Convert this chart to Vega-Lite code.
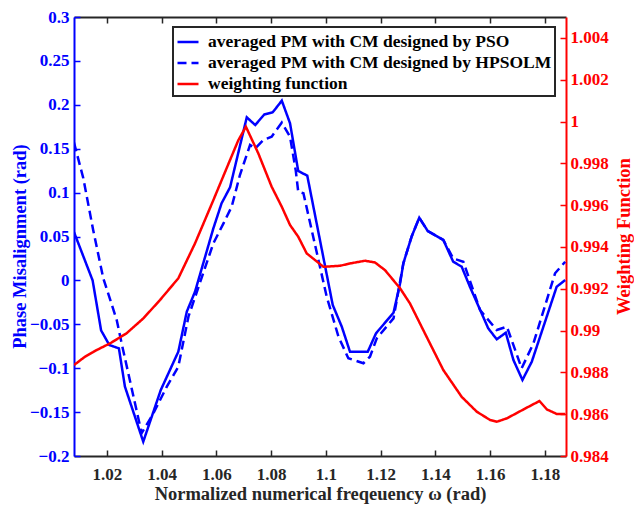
{
  "$schema": "https://vega.github.io/schema/vega-lite/v6.json",
  "autosize": "none",
  "width": 492,
  "height": 439,
  "padding": {"left": 74, "top": 17, "right": 68, "bottom": 50},
  "background": "white",
  "config": {
    "view": {"stroke": null},
    "font": "Liberation Serif",
    "axis": {"labelFont": "Liberation Serif", "titleFont": "Liberation Serif", "labelFontWeight": "bold", "titleFontWeight": "bold", "labelFontSize": 17, "titleFontSize": 18.5, "grid": false, "domainWidth": 2, "tickWidth": 1.5, "tickSize": -6, "labelPadding": 11}
  },
  "datasets": {
    "pm": [
      {"x": 1.008, "y": 0.055, "s": "averaged PM with CM designed by PSO"},
      {"x": 1.0148, "y": 0.0, "s": "averaged PM with CM designed by PSO"},
      {"x": 1.0179, "y": -0.057, "s": "averaged PM with CM designed by PSO"},
      {"x": 1.0209, "y": -0.0736, "s": "averaged PM with CM designed by PSO"},
      {"x": 1.0244, "y": -0.0774, "s": "averaged PM with CM designed by PSO"},
      {"x": 1.0266, "y": -0.121, "s": "averaged PM with CM designed by PSO"},
      {"x": 1.0333, "y": -0.1837, "s": "averaged PM with CM designed by PSO"},
      {"x": 1.0397, "y": -0.1248, "s": "averaged PM with CM designed by PSO"},
      {"x": 1.0461, "y": -0.0812, "s": "averaged PM with CM designed by PSO"},
      {"x": 1.0492, "y": -0.0356, "s": "averaged PM with CM designed by PSO"},
      {"x": 1.0522, "y": -0.0129, "s": "averaged PM with CM designed by PSO"},
      {"x": 1.0589, "y": 0.0593, "s": "averaged PM with CM designed by PSO"},
      {"x": 1.0619, "y": 0.0878, "s": "averaged PM with CM designed by PSO"},
      {"x": 1.065, "y": 0.106, "s": "averaged PM with CM designed by PSO"},
      {"x": 1.0711, "y": 0.1857, "s": "averaged PM with CM designed by PSO"},
      {"x": 1.0742, "y": 0.177, "s": "averaged PM with CM designed by PSO"},
      {"x": 1.0775, "y": 0.189, "s": "averaged PM with CM designed by PSO"},
      {"x": 1.0806, "y": 0.1915, "s": "averaged PM with CM designed by PSO"},
      {"x": 1.0839, "y": 0.2047, "s": "averaged PM with CM designed by PSO"},
      {"x": 1.0869, "y": 0.179, "s": "averaged PM with CM designed by PSO"},
      {"x": 1.0899, "y": 0.1246, "s": "averaged PM with CM designed by PSO"},
      {"x": 1.0932, "y": 0.1193, "s": "averaged PM with CM designed by PSO"},
      {"x": 1.1025, "y": -0.028, "s": "averaged PM with CM designed by PSO"},
      {"x": 1.1058, "y": -0.0527, "s": "averaged PM with CM designed by PSO"},
      {"x": 1.1088, "y": -0.0812, "s": "averaged PM with CM designed by PSO"},
      {"x": 1.1153, "y": -0.0812, "s": "averaged PM with CM designed by PSO"},
      {"x": 1.1183, "y": -0.0603, "s": "averaged PM with CM designed by PSO"},
      {"x": 1.1247, "y": -0.0368, "s": "averaged PM with CM designed by PSO"},
      {"x": 1.1271, "y": -0.0033, "s": "averaged PM with CM designed by PSO"},
      {"x": 1.1283, "y": 0.0195, "s": "averaged PM with CM designed by PSO"},
      {"x": 1.1313, "y": 0.0498, "s": "averaged PM with CM designed by PSO"},
      {"x": 1.1341, "y": 0.0714, "s": "averaged PM with CM designed by PSO"},
      {"x": 1.1372, "y": 0.0563, "s": "averaged PM with CM designed by PSO"},
      {"x": 1.1429, "y": 0.046, "s": "averaged PM with CM designed by PSO"},
      {"x": 1.1465, "y": 0.0213, "s": "averaged PM with CM designed by PSO"},
      {"x": 1.1496, "y": 0.0156, "s": "averaged PM with CM designed by PSO"},
      {"x": 1.1526, "y": -0.0072, "s": "averaged PM with CM designed by PSO"},
      {"x": 1.1593, "y": -0.0546, "s": "averaged PM with CM designed by PSO"},
      {"x": 1.1624, "y": -0.0671, "s": "averaged PM with CM designed by PSO"},
      {"x": 1.1657, "y": -0.0596, "s": "averaged PM with CM designed by PSO"},
      {"x": 1.1685, "y": -0.0907, "s": "averaged PM with CM designed by PSO"},
      {"x": 1.1718, "y": -0.1134, "s": "averaged PM with CM designed by PSO"},
      {"x": 1.1752, "y": -0.0926, "s": "averaged PM with CM designed by PSO"},
      {"x": 1.1843, "y": -0.0072, "s": "averaged PM with CM designed by PSO"},
      {"x": 1.1874, "y": 0.0004, "s": "averaged PM with CM designed by PSO"},
      {"x": 1.008, "y": 0.157, "s": "averaged PM with CM designed by HPSOLM"},
      {"x": 1.0114, "y": 0.1163, "s": "averaged PM with CM designed by HPSOLM"},
      {"x": 1.015, "y": 0.0574, "s": "averaged PM with CM designed by HPSOLM"},
      {"x": 1.0187, "y": 0.0024, "s": "averaged PM with CM designed by HPSOLM"},
      {"x": 1.0236, "y": -0.0451, "s": "averaged PM with CM designed by HPSOLM"},
      {"x": 1.0254, "y": -0.0717, "s": "averaged PM with CM designed by HPSOLM"},
      {"x": 1.0327, "y": -0.174, "s": "averaged PM with CM designed by HPSOLM"},
      {"x": 1.037, "y": -0.1514, "s": "averaged PM with CM designed by HPSOLM"},
      {"x": 1.0419, "y": -0.121, "s": "averaged PM with CM designed by HPSOLM"},
      {"x": 1.0461, "y": -0.0983, "s": "averaged PM with CM designed by HPSOLM"},
      {"x": 1.0498, "y": -0.0413, "s": "averaged PM with CM designed by HPSOLM"},
      {"x": 1.0589, "y": 0.0422, "s": "averaged PM with CM designed by HPSOLM"},
      {"x": 1.0626, "y": 0.065, "s": "averaged PM with CM designed by HPSOLM"},
      {"x": 1.0656, "y": 0.084, "s": "averaged PM with CM designed by HPSOLM"},
      {"x": 1.0686, "y": 0.12, "s": "averaged PM with CM designed by HPSOLM"},
      {"x": 1.0723, "y": 0.1542, "s": "averaged PM with CM designed by HPSOLM"},
      {"x": 1.0742, "y": 0.1504, "s": "averaged PM with CM designed by HPSOLM"},
      {"x": 1.0772, "y": 0.16, "s": "averaged PM with CM designed by HPSOLM"},
      {"x": 1.0802, "y": 0.1637, "s": "averaged PM with CM designed by HPSOLM"},
      {"x": 1.0839, "y": 0.1797, "s": "averaged PM with CM designed by HPSOLM"},
      {"x": 1.0869, "y": 0.1637, "s": "averaged PM with CM designed by HPSOLM"},
      {"x": 1.089, "y": 0.125, "s": "averaged PM with CM designed by HPSOLM"},
      {"x": 1.0899, "y": 0.101, "s": "averaged PM with CM designed by HPSOLM"},
      {"x": 1.0918, "y": 0.0992, "s": "averaged PM with CM designed by HPSOLM"},
      {"x": 1.1003, "y": -0.0186, "s": "averaged PM with CM designed by HPSOLM"},
      {"x": 1.1046, "y": -0.0641, "s": "averaged PM with CM designed by HPSOLM"},
      {"x": 1.1082, "y": -0.0887, "s": "averaged PM with CM designed by HPSOLM"},
      {"x": 1.1137, "y": -0.0944, "s": "averaged PM with CM designed by HPSOLM"},
      {"x": 1.1161, "y": -0.0869, "s": "averaged PM with CM designed by HPSOLM"},
      {"x": 1.1186, "y": -0.066, "s": "averaged PM with CM designed by HPSOLM"},
      {"x": 1.1247, "y": -0.0432, "s": "averaged PM with CM designed by HPSOLM"},
      {"x": 1.1283, "y": 0.0195, "s": "averaged PM with CM designed by HPSOLM"},
      {"x": 1.1313, "y": 0.0498, "s": "averaged PM with CM designed by HPSOLM"},
      {"x": 1.1341, "y": 0.0714, "s": "averaged PM with CM designed by HPSOLM"},
      {"x": 1.1372, "y": 0.0563, "s": "averaged PM with CM designed by HPSOLM"},
      {"x": 1.1429, "y": 0.046, "s": "averaged PM with CM designed by HPSOLM"},
      {"x": 1.1465, "y": 0.025, "s": "averaged PM with CM designed by HPSOLM"},
      {"x": 1.1502, "y": 0.0213, "s": "averaged PM with CM designed by HPSOLM"},
      {"x": 1.1563, "y": -0.0337, "s": "averaged PM with CM designed by HPSOLM"},
      {"x": 1.1624, "y": -0.0565, "s": "averaged PM with CM designed by HPSOLM"},
      {"x": 1.1661, "y": -0.0527, "s": "averaged PM with CM designed by HPSOLM"},
      {"x": 1.1715, "y": -0.1001, "s": "averaged PM with CM designed by HPSOLM"},
      {"x": 1.1758, "y": -0.0717, "s": "averaged PM with CM designed by HPSOLM"},
      {"x": 1.1837, "y": 0.0081, "s": "averaged PM with CM designed by HPSOLM"},
      {"x": 1.1874, "y": 0.0213, "s": "averaged PM with CM designed by HPSOLM"}
    ],
    "wf": [
      {"x": 1.008, "w": 0.98835, "s": "weighting function"},
      {"x": 1.012, "w": 0.98875, "s": "weighting function"},
      {"x": 1.0163, "w": 0.98907, "s": "weighting function"},
      {"x": 1.0212, "w": 0.98939, "s": "weighting function"},
      {"x": 1.0272, "w": 0.98987, "s": "weighting function"},
      {"x": 1.0333, "w": 0.99058, "s": "weighting function"},
      {"x": 1.0394, "w": 0.99146, "s": "weighting function"},
      {"x": 1.0461, "w": 0.9925, "s": "weighting function"},
      {"x": 1.0522, "w": 0.99417, "s": "weighting function"},
      {"x": 1.0589, "w": 0.99624, "s": "weighting function"},
      {"x": 1.065, "w": 0.99816, "s": "weighting function"},
      {"x": 1.068, "w": 0.9991, "s": "weighting function"},
      {"x": 1.0708, "w": 0.99975, "s": "weighting function"},
      {"x": 1.0753, "w": 0.99848, "s": "weighting function"},
      {"x": 1.0802, "w": 0.99688, "s": "weighting function"},
      {"x": 1.0839, "w": 0.99592, "s": "weighting function"},
      {"x": 1.0869, "w": 0.99505, "s": "weighting function"},
      {"x": 1.0899, "w": 0.99449, "s": "weighting function"},
      {"x": 1.093, "w": 0.99369, "s": "weighting function"},
      {"x": 1.0991, "w": 0.99305, "s": "weighting function"},
      {"x": 1.1052, "w": 0.9931, "s": "weighting function"},
      {"x": 1.1088, "w": 0.99321, "s": "weighting function"},
      {"x": 1.1143, "w": 0.99334, "s": "weighting function"},
      {"x": 1.1179, "w": 0.99326, "s": "weighting function"},
      {"x": 1.1216, "w": 0.99289, "s": "weighting function"},
      {"x": 1.1271, "w": 0.99202, "s": "weighting function"},
      {"x": 1.1307, "w": 0.9913, "s": "weighting function"},
      {"x": 1.1368, "w": 0.9897, "s": "weighting function"},
      {"x": 1.1429, "w": 0.98811, "s": "weighting function"},
      {"x": 1.1496, "w": 0.98683, "s": "weighting function"},
      {"x": 1.1551, "w": 0.98612, "s": "weighting function"},
      {"x": 1.16, "w": 0.98572, "s": "weighting function"},
      {"x": 1.1624, "w": 0.98564, "s": "weighting function"},
      {"x": 1.1661, "w": 0.9858, "s": "weighting function"},
      {"x": 1.1722, "w": 0.98623, "s": "weighting function"},
      {"x": 1.178, "w": 0.98663, "s": "weighting function"},
      {"x": 1.1807, "w": 0.98623, "s": "weighting function"},
      {"x": 1.1843, "w": 0.98601, "s": "weighting function"},
      {"x": 1.1874, "w": 0.98601, "s": "weighting function"}
    ]
  },
  "layer": [
    {
      "data": {"name": "pm"},
      "mark": {"type": "line", "strokeWidth": 2.5, "clip": true},
      "encoding": {
        "x": {"field": "x", "type": "quantitative", "scale": {"domain": [1.008, 1.1877], "nice": false, "zero": false},
          "axis": {"orient": "bottom", "title": "Normalized numerical freqeuency ω (rad)", "values": [1.02, 1.04, 1.06, 1.08, 1.1, 1.12, 1.14, 1.16, 1.18], "format": "~g", "domainColor": "#262626", "tickColor": "#262626", "labelColor": "#262626", "titleColor": "#262626", "labelPadding": 16, "titlePadding": 2}},
        "y": {"field": "y", "type": "quantitative", "scale": {"domain": [-0.2, 0.3], "nice": false, "zero": false},
          "axis": {"title": "Phase Misalignment (rad)", "titleX": -55, "titleY": 229, "titleAlign": "center", "titleBaseline": "middle", "titleAngle": -90, "values": [-0.2, -0.15, -0.1, -0.05, 0, 0.05, 0.1, 0.15, 0.2, 0.25, 0.3], "format": "~g", "domainColor": "#0000FF", "tickColor": "#0000FF", "labelColor": "#0000FF", "titleColor": "#0000FF"}},
        "color": {"field": "s", "type": "nominal", "sort": null,
          "scale": {"domain": ["averaged PM with CM designed by PSO", "averaged PM with CM designed by HPSOLM", "weighting function"], "range": ["#0000FF", "#0000FF", "#FF0000"]},
          "legend": {"title": null, "orient": "none", "legendX": 99, "legendY": 10, "fillColor": "white", "strokeColor": "#262626", "padding": 3, "symbolType": "stroke", "symbolSize": 441, "symbolStrokeWidth": 2.5, "labelFont": "Liberation Serif", "labelFontWeight": "bold", "labelFontSize": 17.5, "labelColor": "black", "labelOffset": 8, "rowPadding": 0, "labelLimit": 400,
            "encode": {"legend": {"update": {"strokeWidth": {"value": 2}}}}}},
        "strokeDash": {"field": "s", "type": "nominal", "sort": null,
          "scale": {"domain": ["averaged PM with CM designed by PSO", "averaged PM with CM designed by HPSOLM", "weighting function"], "range": [[1, 0], [9, 5], [1, 0]]},
          "legend": {"title": null, "orient": "none", "legendX": 99, "legendY": 10, "fillColor": "white", "strokeColor": "#262626", "padding": 3, "symbolType": "stroke", "symbolSize": 441, "symbolStrokeWidth": 2.5, "labelFont": "Liberation Serif", "labelFontWeight": "bold", "labelFontSize": 17.5, "labelColor": "black", "labelOffset": 8, "rowPadding": 0, "labelLimit": 400}}
      }
    },
    {
      "data": {"name": "pm"},
      "mark": {"type": "rule", "opacity": 0},
      "encoding": {
        "x": {"field": "x", "type": "quantitative", "scale": {"domain": [1.008, 1.1877], "nice": false, "zero": false},
          "axis": {"orient": "top", "title": null, "labels": false, "values": [1.02, 1.04, 1.06, 1.08, 1.1, 1.12, 1.14, 1.16, 1.18], "domainColor": "#262626", "tickColor": "#262626"}}
      }
    },
    {
      "data": {"name": "wf"},
      "mark": {"type": "line", "strokeWidth": 2.5, "clip": true},
      "encoding": {
        "x": {"field": "x", "type": "quantitative", "scale": {"domain": [1.008, 1.1877], "nice": false, "zero": false}, "axis": null},
        "y": {"field": "w", "type": "quantitative", "scale": {"domain": [0.984, 1.005], "nice": false, "zero": false},
          "axis": {"orient": "right", "title": "Weighting Function", "titleAngle": -90, "titleX": 57, "titleY": 219, "titleAlign": "center", "titleBaseline": "middle", "values": [0.984, 0.986, 0.988, 0.99, 0.992, 0.994, 0.996, 0.998, 1, 1.002, 1.004], "format": "~g", "domainColor": "#FF0000", "tickColor": "#FF0000", "labelColor": "#FF0000", "titleColor": "#FF0000", "labelPadding": 10}},
        "color": {"field": "s", "type": "nominal", "sort": null},
        "strokeDash": {"field": "s", "type": "nominal", "sort": null}
      }
    }
  ],
  "resolve": {"scale": {"x": "independent", "y": "independent"}}
}
